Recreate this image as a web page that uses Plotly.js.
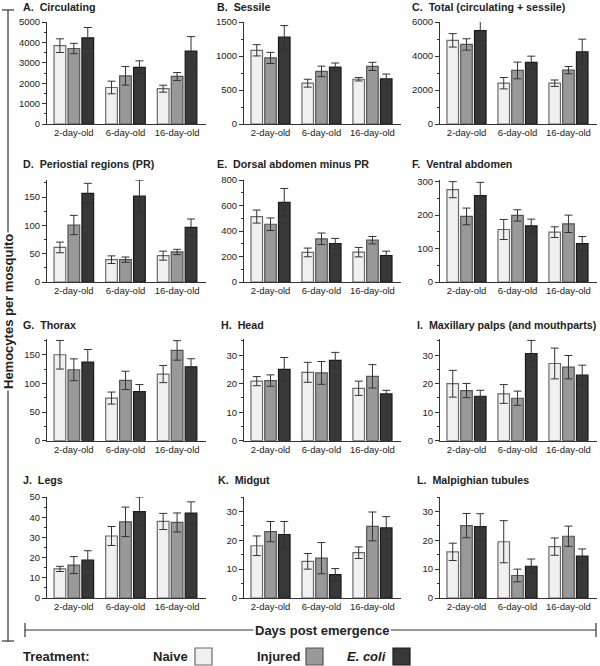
<!DOCTYPE html>
<html><head><meta charset="utf-8">
<script src="https://cdn.plot.ly/plotly-3.0.1.min.js"></script>
<style>html,body{margin:0;padding:0;background:#fff}#chart{width:600px;height:666px}</style>
</head><body><div id="chart"></div>
<script>
const categories = ['2-day-old', '6-day-old', '16-day-old'];
const treatments = ['Naive', 'Injured', 'E. coli'];
const panelTitles = ['A.  Circulating', 'B.  Sessile', 'C.  Total (circulating + sessile)',
  'D.  Periostial regions (PR)', 'E.  Dorsal abdomen minus PR', 'F.  Ventral abdomen',
  'G.  Thorax', 'H.  Head', 'I.  Maxillary palps (and mouthparts)',
  'J.  Legs', 'K.  Midgut', 'L.  Malpighian tubules'];

// rows: Naive, Injured, E. coli ; columns: 2-, 6-, 16-day-old
const circulatingMean = [[3840, 1790, 1730], [3700, 2360, 2330], [4220, 2780, 3570]];
const circulatingSem  = [[335, 310, 170], [255, 455, 195], [510, 315, 715]];
const sessileMean = [[1084, 600, 658], [972, 774, 847], [1277, 837, 663]];
const sessileSem  = [[83, 58, 25], [82, 77, 60], [170, 60, 72]];
const totalMean = [[4920, 2400, 2400], [4680, 3150, 3170], [5490, 3620, 4250]];
const totalSem  = [[395, 335, 190], [335, 490, 215], [580, 370, 740]];
const periostialMean = [[61, 39.4, 46.5], [100.6, 39.4, 53], [156.5, 151.8, 96.5]];
const periostialSem  = [[9.4, 6.7, 8], [17, 4.7, 4.7], [17.6, 28, 14.7]];
const dorsalMean = [[513, 232, 234], [453, 339, 328], [625, 302, 208]];
const dorsalSem  = [[51, 34, 37], [49, 45, 29], [108, 40, 34]];
const ventralMean = [[276, 157, 149], [196, 199, 174], [258, 168, 115]];
const ventralSem  = [[24, 30, 16], [25, 17, 26], [40, 20, 21]];
const thoraxMean = [[150, 74.4, 116.3], [123.8, 105.2, 157.6], [137.2, 85.5, 129]];
const thoraxSem  = [[25, 10.5, 15], [19, 16, 17], [22, 12.5, 14]];
const headMean = [[20.9, 24, 18.4], [21.1, 23.8, 22.6], [25, 28.2, 16.4]];
const headSem  = [[1.6, 3.5, 2.5], [2, 4, 4.1], [4.2, 2.8, 1.3]];
const palpsMean = [[20, 16.4, 27.1], [17.6, 14.9, 25.8], [15.6, 30.6, 23]];
const palpsSem  = [[4.7, 3.3, 5.4], [2.5, 2.5, 4.1], [2.1, 4.6, 3.5]];
const legsMean = [[14.4, 30.7, 37.9], [16.3, 37.7, 37.4], [18.8, 42.8, 42]];
const legsSem  = [[1.3, 4.7, 4], [4.2, 7.3, 4.7], [4.6, 7.2, 5.6]];
const midgutMean = [[18.1, 12.7, 15.7], [23, 13.8, 24.8], [22, 8.1, 24.3]];
const midgutSem  = [[3.4, 2.7, 2], [3.5, 5.4, 5], [4.5, 2.1, 3.9]];
const tubulesMean = [[16, 19.5, 17.8], [25.1, 7.8, 21.4], [24.7, 11, 14.5]];
const tubulesSem  = [[3, 7.3, 3], [4.2, 2.2, 3.5], [4.5, 2.5, 2.5]];

const panelMeans = [circulatingMean, sessileMean, totalMean, periostialMean, dorsalMean, ventralMean,
  thoraxMean, headMean, palpsMean, legsMean, midgutMean, tubulesMean];
const panelSems = [circulatingSem, sessileSem, totalSem, periostialSem, dorsalSem, ventralSem,
  thoraxSem, headSem, palpsSem, legsSem, midgutSem, tubulesSem];

// styling / layout (pixels)
const W = 600, H = 666;
const X = p => p / W, Y = p => 1 - p / H;
const colsPx = [[47, 206], [244, 401], [440, 597]];
const rowsPx = [[22, 124], [180, 282], [338.7, 440.7], [497, 598]];
const titleX = [[21, 215, 410], [21, 215, 410], [21, 219, 415], [21, 216, 415]];
const titleY = [7, 164, 325, 480];
const yRanges = [5000, 1500, 6000, 180, 800, 305, 178, 35.8, 35.8, 50, 35, 35];
const yDticks = [1000, 500, 2000, 50, 200, 100, 50, 10, 10, 10, 10, 10];
const fills = ['#f0f0f0', '#999999', '#383838'];
const outlines = ['#6a6a6a', '#555555', '#1a1a1a'];
const FONT = 'Liberation Sans, Arial, Helvetica, sans-serif';

const data = [];
const layout = {
  width: W, height: H, margin: {l: 0, r: 0, t: 0, b: 0, autoexpand: false},
  paper_bgcolor: '#fff', plot_bgcolor: '#fff',
  barmode: 'group', bargap: 0.19, bargroupgap: 0.16,
  showlegend: false, font: {family: FONT, color: '#222'},
  annotations: [], shapes: []
};

for (let i = 0; i < 12; i++) {
  const r = Math.floor(i / 3), c = i % 3;
  const sfx = i === 0 ? '' : String(i + 1);
  for (let t = 0; t < 3; t++) {
    data.push({
      type: 'bar', x: categories, y: panelMeans[i][t], name: treatments[t],
      xaxis: 'x' + sfx, yaxis: 'y' + sfx, hoverinfo: 'none',
      marker: {color: fills[t], line: {color: outlines[t], width: 1.2}},
      error_y: {type: 'data', array: panelSems[i][t], visible: true, color: '#333', thickness: 1, width: 4}
    });
  }
  layout['xaxis' + sfx] = {
    domain: [X(colsPx[c][0]), X(colsPx[c][1])], anchor: 'y' + sfx,
    type: 'category', range: [-0.52, 2.56], showline: true, linecolor: '#333', linewidth: 1,
    ticks: '', showgrid: false, zeroline: false, fixedrange: true, automargin: false,
    tickfont: {family: FONT, size: 9.5, color: '#222'}
  };
  layout['yaxis' + sfx] = {
    domain: [Y(rowsPx[r][1]), Y(rowsPx[r][0])], anchor: 'x' + sfx,
    range: [0, yRanges[i]], tick0: 0, dtick: yDticks[i],
    ticks: 'outside', ticklen: 4, tickwidth: 1, tickcolor: '#333', automargin: false,
    showline: true, linecolor: '#333', linewidth: 1, showgrid: false, zeroline: false, fixedrange: true,
    tickfont: {family: FONT, size: 9.5, color: '#222'},
    minor: {ticks: 'outside', ticklen: 2, tickwidth: 1, tickcolor: '#333', dtick: yDticks[i] / 2, tick0: 0}
  };
  layout.annotations.push({
    text: '<b>' + panelTitles[i].replace('  ', '\u00a0 ') + '</b>', xref: 'paper', yref: 'paper',
    x: X(titleX[r][c]), y: Y(titleY[r]), xanchor: 'left', yanchor: 'middle',
    showarrow: false, font: {family: FONT, size: 10.7, color: '#222'}
  });
}

// bracket lines for the shared axis labels
const lineStyle = {color: '#333', width: 1.2};
layout.shapes.push(
  {type: 'line', xref: 'paper', yref: 'paper', x0: X(8), x1: X(8), y0: Y(10), y1: Y(641), line: lineStyle},
  {type: 'line', xref: 'paper', yref: 'paper', x0: X(2), x1: X(14), y0: Y(10), y1: Y(10), line: lineStyle},
  {type: 'line', xref: 'paper', yref: 'paper', x0: X(2), x1: X(14), y0: Y(641), y1: Y(641), line: lineStyle},
  {type: 'line', xref: 'paper', yref: 'paper', x0: X(25), x1: X(596), y0: Y(630), y1: Y(630), line: lineStyle},
  {type: 'line', xref: 'paper', yref: 'paper', x0: X(25), x1: X(25), y0: Y(623), y1: Y(637), line: lineStyle},
  {type: 'line', xref: 'paper', yref: 'paper', x0: X(596), x1: X(596), y0: Y(623), y1: Y(637), line: lineStyle}
);
layout.annotations.push(
  {text: '<b>Hemocytes per mosquito</b>', xref: 'paper', yref: 'paper', x: X(8), y: Y(312),
   xanchor: 'center', yanchor: 'middle',
   textangle: -90, showarrow: false, bgcolor: '#fff', font: {family: FONT, size: 13, color: '#222'}},
  {text: '<b>Days post emergence</b>', xref: 'paper', yref: 'paper', x: X(322), y: Y(630),
   xanchor: 'center', yanchor: 'middle',
   showarrow: false, bgcolor: '#fff', font: {family: FONT, size: 13, color: '#222'}},
  {text: '<b>Treatment:</b>', xref: 'paper', yref: 'paper', x: X(21), y: Y(656),
   xanchor: 'left', yanchor: 'middle', showarrow: false, font: {family: FONT, size: 13, color: '#222'}}
);
const legTextRight = [190, 302, 388];
const legBoxLeft = [195, 306, 393];
const legLabels = ['<b>Naive</b>', '<b>Injured</b>', '<b><i>E. coli</i></b>'];
for (let t = 0; t < 3; t++) {
  layout.annotations.push({text: legLabels[t], xref: 'paper', yref: 'paper', x: X(legTextRight[t]), y: Y(656),
    xanchor: 'right', yanchor: 'middle', showarrow: false, font: {family: FONT, size: 13, color: '#222'}});
  layout.shapes.push({type: 'rect', xref: 'paper', yref: 'paper',
    x0: X(legBoxLeft[t]), x1: X(legBoxLeft[t] + 17), y0: Y(665), y1: Y(648),
    fillcolor: fills[t], line: {color: outlines[t], width: 1.2}});
}

Plotly.newPlot('chart', data, layout, {displayModeBar: false, staticPlot: true});
</script></body></html>
